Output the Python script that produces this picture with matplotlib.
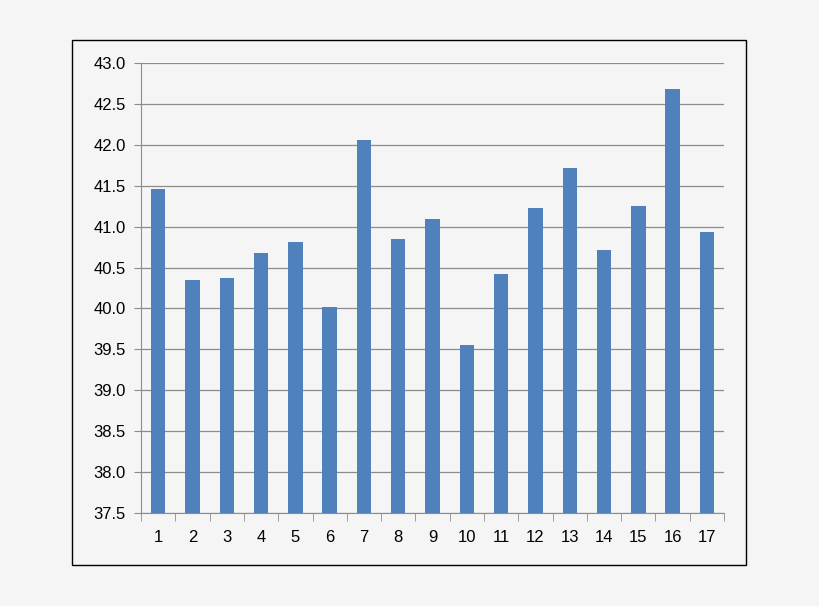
import matplotlib.pyplot as plt
import numpy as np
from matplotlib.patches import Rectangle

labels = [str(i) for i in range(1, 18)]
values = [41.46, 40.35, 40.37, 40.68, 40.81, 40.02, 42.06, 40.85, 41.09,
          39.55, 40.42, 41.23, 41.72, 40.71, 41.25, 42.68, 40.93]
yticks = np.arange(37.5, 43.01, 0.5)

plt.rcParams['font.family'] = ['Liberation Sans', 'DejaVu Sans']
fig = plt.figure(figsize=(8.2, 6.06), dpi=100, facecolor='#f5f5f5')
fig.patches.append(Rectangle((0.0878, 0.0677), 0.822, 0.866, transform=fig.transFigure,
                             fill=False, edgecolor='black', linewidth=1))
ax = fig.add_axes([0.172, 0.1535, 0.711, 0.7426])
ax.set_facecolor('#f5f5f5')

x = np.arange(len(values))
ax.bar(x, np.array(values) - 37.5, bottom=37.5, width=0.42, color='#4f81bd', zorder=3)
ax.set_ylim(37.5, 43.0)
ax.set_xlim(-0.5, len(values) - 0.5)
ax.set_yticks(yticks)
ax.set_yticklabels([f"{v:.1f}" for v in yticks], fontsize=12)
ax.yaxis.grid(True, color='#8c8c8c', linewidth=0.9, zorder=0)
ax.tick_params(axis='y', length=5, color='#8c8c8c', pad=6)

ax.set_xticks(x)
ax.set_xticklabels(labels, fontsize=12)
ax.set_xticks(np.arange(-0.5, len(values), 1), minor=True)
ax.tick_params(axis='x', which='major', length=0, pad=12)
ax.tick_params(axis='x', which='minor', length=6, color='#8c8c8c')

for s in ['top', 'right']:
    ax.spines[s].set_visible(False)
for s in ['left', 'bottom']:
    ax.spines[s].set_color('#8c8c8c')

fig.savefig('out.png', facecolor=fig.get_facecolor())
